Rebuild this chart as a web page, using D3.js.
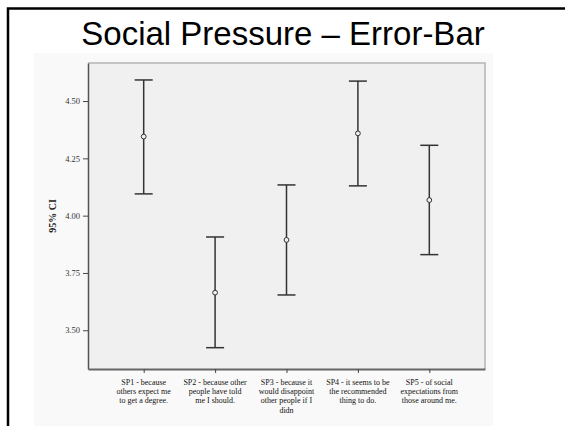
<!DOCTYPE html>
<html>
<head>
<meta charset="utf-8">
<script src="https://cdn.jsdelivr.net/npm/d3@7"></script>
<style>
  body { margin: 0; background: #fff; }
  .tick text { font-family: "Liberation Serif", "DejaVu Serif", serif; }
</style>
</head>
<body>
<div id="chart"></div>
<script>
// data
var categories = ["SP1", "SP2", "SP3", "SP4", "SP5"];
var labelLines = [
  ["SP1 - because", "others expect me", "to get a degree."],
  ["SP2 - because other", "people have told", "me I should."],
  ["SP3 - because it", "would disappoint", "other people if I", "didn"],
  ["SP4 - it seems to be", "the recommended", "thing to do."],
  ["SP5 - of social", "expectations from", "those around me."]
];
var means = [4.345, 3.664, 3.894, 4.359, 4.068];
var lower = [4.095, 3.424, 3.654, 4.130, 3.830];
var upper = [4.592, 3.907, 4.134, 4.587, 4.307];
var yTicks = [3.50, 3.75, 4.00, 4.25, 4.50];

var svgWidth = 565;
var svgHeight = 426;

// plot area
var plot = { left: 88, right: 485, top: 63, bottom: 369 };

var svg = d3.select("#chart")
  .append("svg")
  .attr("width", svgWidth)
  .attr("height", svgHeight);

// slide frame (only top and left edges show)
svg.append("path")
  .attr("d", "M8,426 L8,8.5 L565,8.5")
  .attr("fill", "none")
  .attr("stroke", "#000")
  .attr("stroke-width", 2.5);

// title
svg.append("text")
  .attr("x", 283)
  .attr("y", 45)
  .attr("text-anchor", "middle")
  .attr("font-family", "Liberation Sans, Arial, sans-serif")
  .attr("font-size", 33)
  .attr("fill", "#000")
  .text("Social Pressure \u2013 Error-Bar");

// faint chart background
svg.append("rect")
  .attr("x", 34)
  .attr("y", 53)
  .attr("width", 459)
  .attr("height", 373)
  .attr("fill", "#f9f9f9");

var xscale = d3.scalePoint()
  .domain(categories)
  .range([plot.left, plot.right])
  .padding(0.78);

var yscale = d3.scaleLinear()
  .domain([3.331, 4.666])
  .range([plot.bottom, plot.top]);

// plot background
svg.append("rect")
  .attr("x", plot.left)
  .attr("y", plot.top)
  .attr("width", plot.right - plot.left)
  .attr("height", plot.bottom - plot.top)
  .attr("fill", "#f0f0f0");

// top / right frame lines
svg.append("path")
  .attr("d", `M${plot.left},${plot.top} L${plot.right},${plot.top} L${plot.right},${plot.bottom}`)
  .attr("fill", "none")
  .attr("stroke", "#b4b4b4")
  .attr("stroke-width", 1.5);

// axes
var leftAxis = d3.axisLeft(yscale)
  .tickValues(yTicks)
  .tickFormat(d3.format(".2f"))
  .tickSize(5)
  .tickPadding(3)
  .tickSizeOuter(0);

var bottomAxis = d3.axisBottom(xscale)
  .tickFormat("")
  .tickSize(4)
  .tickSizeOuter(0);

var yAxisG = svg.append("g")
  .attr("transform", `translate(${plot.left},0)`)
  .call(leftAxis);
yAxisG.select(".domain").attr("stroke", "#555").attr("stroke-width", 1.5);
yAxisG.selectAll(".tick line").attr("stroke", "#444");
yAxisG.selectAll(".tick text")
  .attr("font-size", 8.5)
  .attr("fill", "#333");

var xAxisG = svg.append("g")
  .attr("transform", `translate(0,${plot.bottom})`)
  .call(bottomAxis);
xAxisG.select(".domain").attr("stroke", "#666").attr("stroke-width", 2);
xAxisG.selectAll(".tick line").attr("stroke", "#444");

// multi-line category labels
var labelGroup = svg.append("g")
  .attr("font-family", "Liberation Serif, DejaVu Serif, serif")
  .attr("font-size", 8)
  .attr("fill", "#111")
  .attr("text-anchor", "middle");

labelGroup.selectAll("text")
  .data(categories)
  .enter()
  .append("text")
  .attr("x", d => xscale(d))
  .attr("y", 385)
  .each(function(d, i) {
    d3.select(this).selectAll("tspan")
      .data(labelLines[i])
      .enter()
      .append("tspan")
      .attr("x", xscale(d))
      .attr("dy", (t, j) => j === 0 ? 0 : 9.2)
      .text(t => t);
  });

// y label
svg.append("text")
  .attr("transform", `translate(56, 216) rotate(-90)`)
  .attr("text-anchor", "middle")
  .attr("font-family", "Liberation Serif, DejaVu Serif, serif")
  .attr("font-weight", "bold")
  .attr("font-size", 10)
  .attr("fill", "#222")
  .text("95% CI");

// error bars
var bars = svg.append("g")
  .selectAll("g")
  .data(categories)
  .enter()
  .append("g")
  .attr("stroke", "#333")
  .attr("fill", "none");

bars.append("line")
  .attr("x1", d => xscale(d))
  .attr("x2", d => xscale(d))
  .attr("y1", (d, i) => yscale(lower[i]))
  .attr("y2", (d, i) => yscale(upper[i]))
  .attr("stroke-width", 1.5);

bars.append("line")
  .attr("x1", d => xscale(d) - 9)
  .attr("x2", d => xscale(d) + 9)
  .attr("y1", (d, i) => yscale(upper[i]))
  .attr("y2", (d, i) => yscale(upper[i]))
  .attr("stroke-width", 1.5);

bars.append("line")
  .attr("x1", d => xscale(d) - 9)
  .attr("x2", d => xscale(d) + 9)
  .attr("y1", (d, i) => yscale(lower[i]))
  .attr("y2", (d, i) => yscale(lower[i]))
  .attr("stroke-width", 1.5);

bars.append("circle")
  .attr("cx", d => xscale(d))
  .attr("cy", (d, i) => yscale(means[i]))
  .attr("r", 2.4)
  .attr("fill", "#f0f0f0")
  .attr("stroke-width", 1);
</script>
</body>
</html>
